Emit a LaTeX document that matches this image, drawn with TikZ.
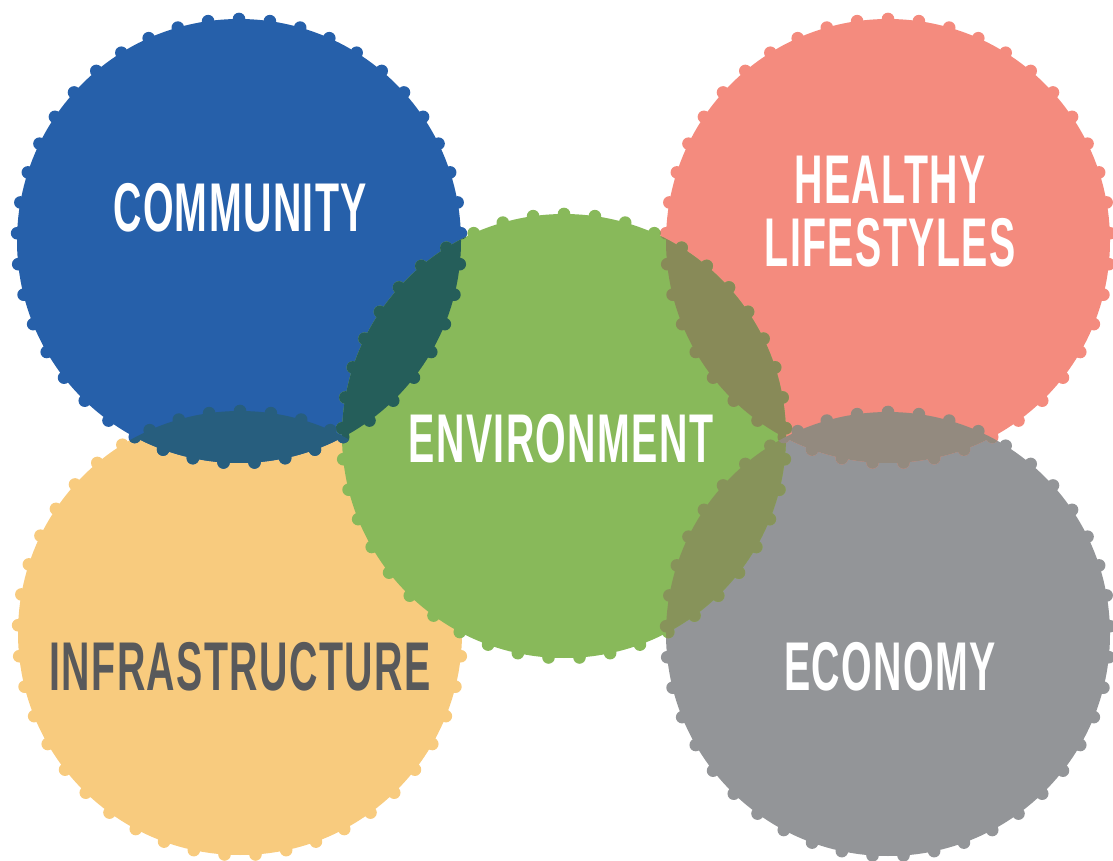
\documentclass[tikz,border=0pt]{standalone}
\usepackage{fontspec}
\usepackage{xcolor}
\usepackage{tikz}
\newfontfamily\labelfont[FakeStretch=0.57,LetterSpace=2]{Liberation Sans}

\definecolor{commblue}{HTML}{2660AA}
\definecolor{healthsalmon}{HTML}{F48B7E}
\definecolor{envgreen}{HTML}{88B95A}
\definecolor{infrayellow}{HTML}{F8CB7E}
\definecolor{econgray}{HTML}{939598}
\definecolor{labelgray}{HTML}{58595B}
\definecolor{commenv}{HTML}{255E5A}
\definecolor{comminfra}{HTML}{275E7E}
\definecolor{healthenv}{HTML}{888A58}
\definecolor{econenv}{HTML}{87935A}
\definecolor{healthecon}{HTML}{938A7F}

\begin{document}
\begin{tikzpicture}[x=1pt, y=1pt, every node/.style={font=\labelfont\bfseries\fontsize{69}{63}\selectfont, text=white, align=center, inner sep=0pt}]
    \useasboundingbox (0,0) rectangle (1113,860);
    \coordinate (Infrastructure) at (240,227);
    \coordinate (Economy) at (888,226);
    \coordinate (Healthy) at (888,619);
    \coordinate (Community) at (239,619);
    \coordinate (Environment) at (564,424);

    % dotted discs, yellow first so green lies on it
    \foreach \c/\col in {Infrastructure/infrayellow, Economy/econgray, Healthy/healthsalmon, Community/commblue, Environment/envgreen}
      \fill[\col] (\c) circle (222) foreach \a in {2,10,...,354} {(\c) ++(\a:222) circle (6.3)};

    % overlaps
    \foreach \p/\q/\col in {Community/Environment/commenv, Community/Infrastructure/comminfra, Healthy/Environment/healthenv, Economy/Environment/econenv, Healthy/Economy/healthecon} {
      \begin{scope}
        \clip (\p) circle (222) foreach \a in {2,10,...,354} {(\p) ++(\a:222) circle (6.3)};
        \fill[\col] (\q) circle (222) foreach \a in {2,10,...,354} {(\q) ++(\a:222) circle (6.3)};
      \end{scope}
    }

    \node (CommunityText) at (240,652) {COMMUNITY};
    \node (HealthyText) at (890,648) {HEALTHY\\LIFESTYLES};
    \node (EnvironmentText) at (561,421) {ENVIRONMENT};
    \node [text=labelgray] (InfrastructureText) at (240,193) {INFRASTRUCTURE};
    \node (EconomyText) at (890,193) {ECONOMY};
\end{tikzpicture}
\end{document}
